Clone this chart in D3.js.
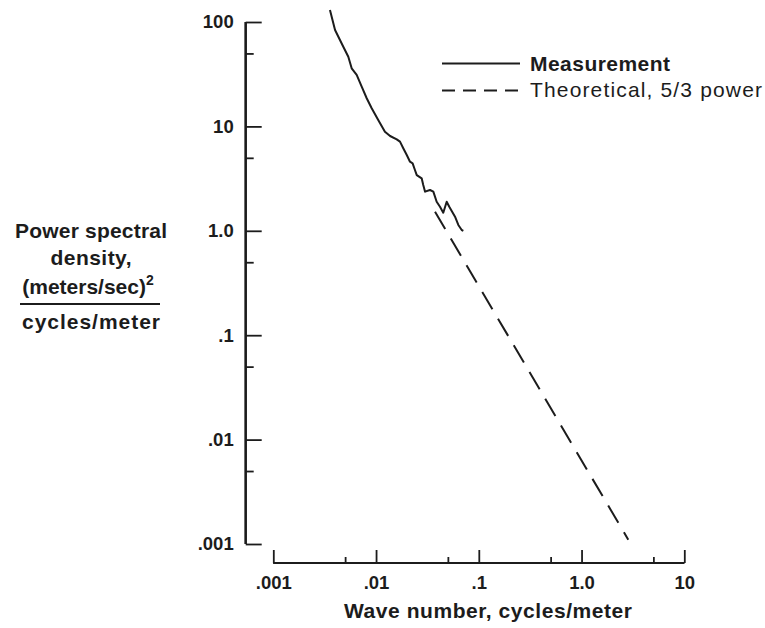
<!DOCTYPE html>
<html>
<head>
<meta charset="utf-8">
<script src="https://cdn.jsdelivr.net/npm/d3@7"></script>
<style>
  body { margin: 0; background: #fff; }
  svg text { font-family: 'Liberation Sans', Arial, sans-serif; fill: #1c1c1c; }
</style>
</head>
<body>
<div class="chart"></div>
<script>
// wave number (cycles/meter) and power spectral density
const measK = [0.00356, 0.00399, 0.0048, 0.00537, 0.00579, 0.00648, 0.00725, 0.00811, 0.00907, 0.0105,
  0.0122, 0.0137, 0.0159, 0.0171, 0.0184, 0.0199, 0.0214, 0.0227, 0.0239, 0.0249,
  0.0278, 0.0288, 0.0300, 0.0335, 0.0361, 0.0389, 0.0419, 0.0451, 0.0487, 0.0516,
  0.0545, 0.0587, 0.0632, 0.0682, 0.0707];
const measS = [130, 83.8, 58.0, 46.5, 36.0, 31.1, 24.0, 18.6, 14.9, 11.5,
  8.9, 8.09, 7.52, 7.14, 6.17, 5.32, 4.59, 4.43, 3.82, 3.42,
  3.18, 2.75, 2.37, 2.46, 2.37, 1.90, 1.70, 1.49, 1.90, 1.70,
  1.55, 1.365, 1.137, 1.018, 1.0];

// theoretical 5/3 power line, end points
const theoK = [0.0375, 2.85];
const theoS = [1.52, 0.0011];

const xMajor = [0.001, 0.01, 0.1, 1, 10];
const xMinor = [0.005, 0.05, 0.5, 5];
const xLabels = ['.001', '.01', '.1', '1.0', '10'];
const yMajor = [0.001, 0.01, 0.1, 1, 10, 100];
const yMinor = [0.005, 0.05, 0.5, 5, 50];
const yLabels = ['.001', '.01', '.1', '1.0', '10', '100'];

const width = 765, height = 628;
const ink = '#1c1c1c';

const svg = d3.select('.chart')
  .append('svg')
  .attr('width', width)
  .attr('height', height);

svg.append('rect').attr('width', width).attr('height', height).attr('fill', '#fff');

const x = d3.scaleLog().domain([0.001, 10]).range([273.3, 684.3]);
const y = d3.scaleLog().domain([0.001, 100]).range([544, 22]);

// y axis: ticks point into the plot, labels on the left
svg.append('g')
  .attr('class', 'yaxis')
  .attr('transform', 'translate(245.7,0)')
  .call(d3.axisLeft(y).tickValues(yMajor).tickSize(-16).tickPadding(12)
    .tickFormat((d, i) => yLabels[i]));
svg.append('g')
  .attr('class', 'yaxis')
  .attr('transform', 'translate(245.7,0)')
  .call(d3.axisLeft(y).tickValues(yMinor).tickSize(-8).tickFormat(''));

// x axis: ticks point up, labels below
svg.append('g')
  .attr('class', 'xaxis')
  .attr('transform', 'translate(0,563)')
  .call(d3.axisBottom(x).tickValues(xMajor).tickSize(-13).tickPadding(13)
    .tickFormat((d, i) => xLabels[i]));
svg.append('g')
  .attr('class', 'xaxis')
  .attr('transform', 'translate(0,563)')
  .call(d3.axisBottom(x).tickValues(xMinor).tickSize(-6).tickFormat(''));

svg.selectAll('.domain').attr('stroke', ink).attr('stroke-width', 2.2);
svg.selectAll('.tick line').attr('stroke', ink).attr('stroke-width', 1.8);
svg.selectAll('.tick text')
  .style('font-size', '18.5px')
  .style('font-weight', 'bold')
  .attr('fill', ink);

// plain axis lines without the end caps
svg.selectAll('.yaxis .domain').attr('d', 'M0,22V544');
svg.selectAll('.xaxis .domain').attr('d', 'M273.3,0H684.3');

const line = d3.line()
  .x(d => x(d[0]))
  .y(d => y(d[1]));

const measData = measK.map((k, i) => [k, measS[i]]);
const theoData = theoK.map((k, i) => [k, theoS[i]]);

svg.append('path')
  .datum(theoData)
  .attr('d', line)
  .attr('fill', 'none')
  .attr('stroke', ink)
  .attr('stroke-width', 2)
  .attr('stroke-dasharray', '20,11');

svg.append('path')
  .datum(measData)
  .attr('d', line)
  .attr('fill', 'none')
  .attr('stroke', ink)
  .attr('stroke-width', 2)
  .attr('stroke-linejoin', 'round');

// legend
const legend = svg.append('g');
legend.append('line')
  .attr('x1', 442).attr('x2', 520).attr('y1', 63.5).attr('y2', 63.5)
  .attr('stroke', ink).attr('stroke-width', 2);
legend.append('line')
  .attr('x1', 442).attr('x2', 520).attr('y1', 90.5).attr('y2', 90.5)
  .attr('stroke', ink).attr('stroke-width', 2)
  .attr('stroke-dasharray', '13,8');
legend.append('text')
  .attr('x', 530).attr('y', 71)
  .attr('textLength', 140)
  .style('font-size', '21px').style('font-weight', 'bold')
  .text('Measurement');
legend.append('text')
  .attr('x', 530).attr('y', 97)
  .attr('textLength', 232)
  .style('font-size', '21px')
  .text('Theoretical, 5/3 power');

// y title
const yTitle = svg.append('g').style('font-size', '21px').style('font-weight', 'bold');
yTitle.append('text').attr('x', 91).attr('y', 238).attr('text-anchor', 'middle')
  .attr('textLength', 152).text('Power spectral');
yTitle.append('text').attr('x', 91).attr('y', 265).attr('text-anchor', 'middle')
  .attr('textLength', 81).text('density,');
const unitLine = yTitle.append('text').attr('x', 88).attr('y', 294).attr('text-anchor', 'middle');
unitLine.append('tspan').text('(meters/sec)');
unitLine.append('tspan').attr('dy', -9).style('font-size', '14px').text('2');
yTitle.append('line')
  .attr('x1', 20).attr('x2', 160).attr('y1', 304).attr('y2', 304)
  .attr('stroke', ink).attr('stroke-width', 2);
yTitle.append('text').attr('x', 91).attr('y', 329).attr('text-anchor', 'middle')
  .attr('textLength', 138).text('cycles/meter');

// x title
svg.append('text')
  .attr('x', 488).attr('y', 618)
  .attr('text-anchor', 'middle')
  .attr('textLength', 288)
  .style('font-size', '21px').style('font-weight', 'bold')
  .text('Wave number, cycles/meter');
</script>
</body>
</html>
